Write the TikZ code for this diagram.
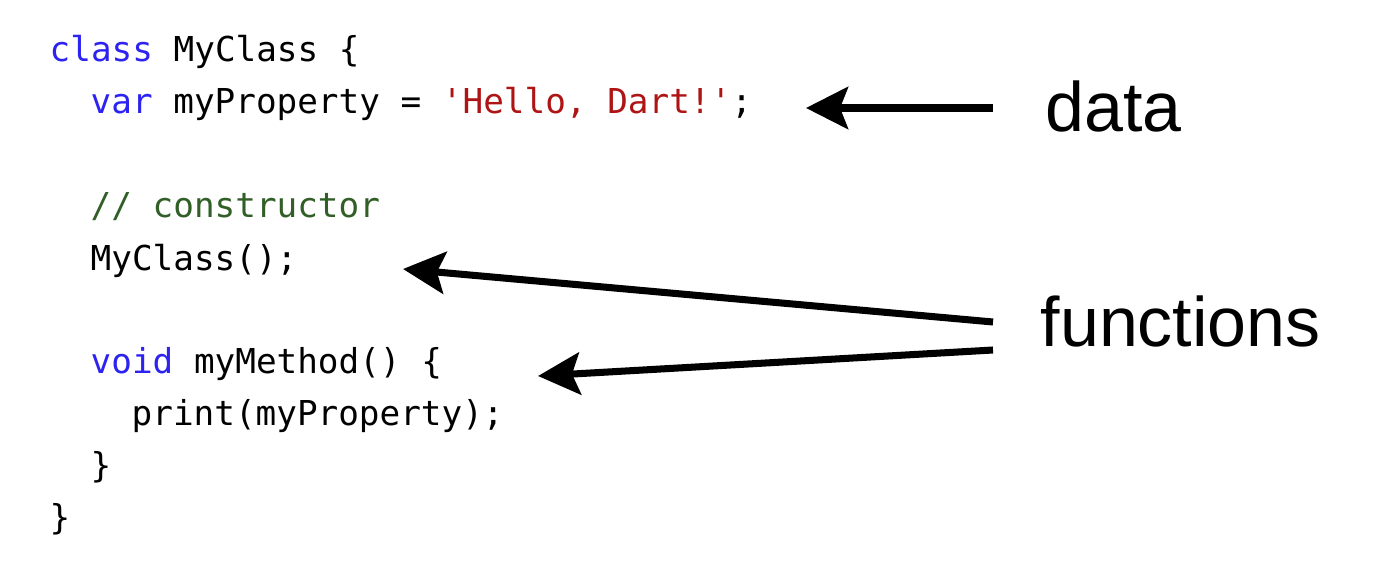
\documentclass[tikz,border=0pt]{standalone}
\usepackage{fontspec}
\usetikzlibrary{arrows.meta}
\newfontfamily\codefont{DejaVu Sans Mono}[Ligatures=TeXOff]
\newfontfamily\labelfont{Liberation Sans}
\definecolor{kwblue}{RGB}{45,35,240}
\definecolor{strred}{RGB}{175,20,20}
\definecolor{cmtgreen}{RGB}{50,95,40}
\newcommand{\kw}[1]{\textcolor{kwblue}{#1}}

\begin{document}
\begin{tikzpicture}[x=0.01cm,y=-0.01cm,
        code/.style={anchor=base west,inner sep=0pt,font=\codefont\fontsize{9.76pt}{12pt}\selectfont},
        tag/.style={anchor=base west,inner sep=0pt,font=\labelfont\fontsize{19.9pt}{23pt}\selectfont},
        pointer/.style={line width=2pt,black,-{Stealth[length=0.42cm,width=0.42cm,inset=0.08cm]}}]
        \useasboundingbox (0,0) rectangle (1400,579);

        \node[code] (cls) at (49,62) {\kw{class} MyClass \{};
        \node[code] (prop) at (90,114) {\kw{var} myProperty = \textcolor{strred}{'Hello, Dart!'};};
        \node[code] (cmt) at (90,218) {\textcolor{cmtgreen}{// constructor}};
        \node[code] (ctor) at (90,270) {MyClass();};
        \node[code] (meth) at (90,373) {\kw{void} myMethod() \{};
        \node[code] (body) at (131,425) {print(myProperty);};
        \node[code] (mclose) at (90,477) {\}};
        \node[code] (cclose) at (49,529) {\}};

        \node[tag] (data) at (1045,132) {data};
        \node[tag] (funcs) at (1040,347) {functions};

        \coordinate (datafrom) at (993,108);
        \coordinate (datato) at (806,108);
        \coordinate (ctorfrom) at (993,322);
        \coordinate (ctorto) at (403,269);
        \coordinate (methfrom) at (993,350);
        \coordinate (methto) at (538,376);

        \draw[pointer] (datafrom)--(datato);
        \draw[pointer] (ctorfrom)--(ctorto);
        \draw[pointer] (methfrom)--(methto);
    \end{tikzpicture}
\end{document}
